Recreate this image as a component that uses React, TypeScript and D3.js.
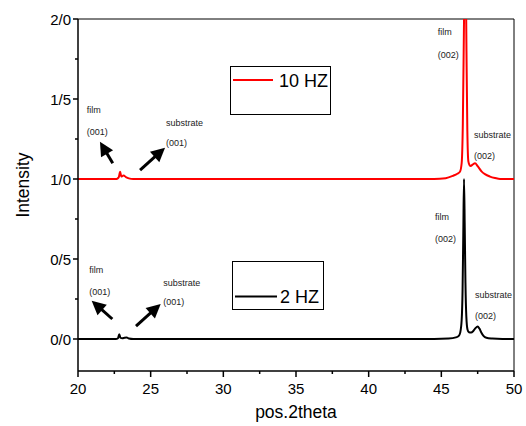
import React from "react";
import * as d3 from "d3";

// ---- data ----
const xTicks = [20, 25, 30, 35, 40, 45, 50];
const xMinorTicks = [22.5, 27.5, 32.5, 37.5, 42.5, 47.5];
const yTicks = [0, 0.5, 1.0, 1.5, 2.0];
const yMinorTicks = [0.25, 0.75, 1.25, 1.75];

// 2 HZ pattern (2theta, intensity)
const hz2X = [20, 22.6, 22.75, 22.84, 22.92, 23.05, 23.2, 23.35, 23.5, 23.8, 44.5, 45.5, 46.0, 46.2, 46.3, 46.4, 46.46, 46.51, 46.56, 46.61, 46.66, 46.72, 46.8, 46.9, 47.05, 47.2, 47.35, 47.5, 47.62, 47.75, 47.9, 48.1, 48.5, 49.2, 50];
const hz2Y = [0, 0, 0.005, 0.03, 0.008, 0.004, 0.008, 0.01, 0.003, 0, 0, 0.003, 0.01, 0.02, 0.04, 0.12, 0.3, 0.65, 1.0, 0.7, 0.35, 0.14, 0.06, 0.042, 0.04, 0.05, 0.068, 0.078, 0.065, 0.04, 0.02, 0.008, 0.003, 0, 0];

// 10 HZ pattern (offset by 1.0 in the plot)
const hz10Offset = 1.0;
const hz10X = [20, 22.65, 22.8, 22.9, 22.98, 23.08, 23.14, 23.3, 23.5, 23.8, 44.5, 45.3, 45.8, 46.1, 46.28, 46.4, 46.48, 46.55, 46.6, 46.64, 46.68, 46.73, 46.79, 46.86, 46.95, 47.02, 47.15, 47.32, 47.5, 47.78, 48.0, 48.35, 48.7, 49.04, 50];
const hz10Y = [0, 0, 0.01, 0.045, 0.015, 0.02, 0.022, 0.012, 0.004, 0, 0, 0.005, 0.02, 0.033, 0.045, 0.1, 0.35, 0.9, 1.3, 1.45, 1.3, 0.8, 0.3, 0.11, 0.085, 0.081, 0.09, 0.098, 0.08, 0.046, 0.03, 0.015, 0.006, 0, 0];

// annotations in data coordinates
const labelTexts = ["film", "(001)", "substrate", "(001)", "film", "(001)", "substrate", "(001)", "film", "(002)", "substrate", "(002)", "film", "(002)", "substrate", "(002)"];
const labelX = [20.6, 20.6, 26.05, 26.05, 20.78, 20.78, 25.87, 25.87, 44.75, 44.75, 47.25, 47.25, 44.56, 44.56, 47.32, 47.32];
const labelY = [1.4125, 1.278, 1.331, 1.209, 0.4125, 0.275, 0.331, 0.2125, 1.9, 1.759, 1.254, 1.125, 0.744, 0.609, 0.256, 0.128];

const arrowTailX = [22.39, 24.27, 22.36, 23.99];
const arrowTailY = [1.098, 1.056, 0.125, 0.081];
const arrowTipX = [21.51, 25.99, 20.94, 25.69];
const arrowTipY = [1.233, 1.196, 0.239, 0.219];

const W = 526, H = 426;
const M = { left: 78, right: 514, top: 19, bottom: 371 };
const FONT = "'Liberation Sans', Arial, sans-serif";

export default function App() {
  const x = d3.scaleLinear().domain([20, 50]).range([M.left, M.right]);
  const y = d3.scaleLinear().domain([-0.2, 2.0]).range([M.bottom, M.top]);
  const line = d3
    .line<[number, number]>()
    .x((d) => x(d[0]))
    .y((d) => y(d[1]))
    .curve(d3.curveMonotoneX);

  const black = hz2X.map((v, i) => [v, hz2Y[i]] as [number, number]);
  const red = hz10X.map((v, i) => [v, hz10Y[i] + hz10Offset] as [number, number]);

  const arrows = arrowTailX.map((_, i) => {
    const x1 = x(arrowTailX[i]), y1 = y(arrowTailY[i]);
    const x2 = x(arrowTipX[i]), y2 = y(arrowTipY[i]);
    const ang = Math.atan2(y2 - y1, x2 - x1);
    const headLen = 14, headHalf = 7;
    const bx = x2 - headLen * Math.cos(ang), by = y2 - headLen * Math.sin(ang);
    const px = -Math.sin(ang), py = Math.cos(ang);
    const pts = `${x2},${y2} ${bx + px * headHalf},${by + py * headHalf} ${bx - px * headHalf},${by - py * headHalf}`;
    return (
      <g key={i}>
        <line x1={x1} y1={y1} x2={bx + 2 * Math.cos(ang)} y2={by + 2 * Math.sin(ang)} stroke="#000" strokeWidth={3} />
        <polygon points={pts} fill="#000" />
      </g>
    );
  });

  const fmtY = (v: number) => d3.format(".1f")(v).replace(".", "/");

  return (
    <svg width={W} height={H} style={{ position: "absolute", left: 0, top: 0, background: "#fff" }} fontFamily={FONT}>
      <defs>
        <clipPath id="plotclip">
          <rect x={M.left} y={M.top} width={M.right - M.left} height={M.bottom - M.top} />
        </clipPath>
      </defs>
      <rect x={0} y={0} width={W} height={H} fill="#fff" />

      {/* frame top/right */}
      <line x1={M.left} y1={M.top} x2={M.right} y2={M.top} stroke="#000" strokeWidth={1} />
      <line x1={M.right} y1={M.top} x2={M.right} y2={M.bottom} stroke="#000" strokeWidth={1} />

      {/* curves */}
      <g clipPath="url(#plotclip)">
        <path d={line(black) || ""} fill="none" stroke="#000" strokeWidth={2} />
        <path d={line(red) || ""} fill="none" stroke="#ff0000" strokeWidth={2} />
      </g>

      {/* axes */}
      <line x1={M.left} y1={M.top} x2={M.left} y2={M.bottom} stroke="#000" strokeWidth={1.5} />
      <line x1={M.left} y1={M.bottom} x2={M.right} y2={M.bottom} stroke="#000" strokeWidth={1.5} />
      {xTicks.map((t) => (
        <g key={"xt" + t}>
          <line x1={x(t)} x2={x(t)} y1={M.bottom} y2={M.bottom + 6} stroke="#000" strokeWidth={1.5} />
          <text x={x(t)} y={M.bottom + 23} textAnchor="middle" fontSize={15} fill="#000">{t}</text>
        </g>
      ))}
      {xMinorTicks.map((t) => (
        <line key={"xm" + t} x1={x(t)} x2={x(t)} y1={M.bottom} y2={M.bottom + 3} stroke="#000" strokeWidth={1.5} />
      ))}
      {yTicks.map((t) => (
        <g key={"yt" + t}>
          <line x1={M.left - 5} x2={M.left} y1={y(t)} y2={y(t)} stroke="#000" strokeWidth={1.5} />
          <text x={M.left - 7} y={y(t) + 5.5} textAnchor="end" fontSize={15} fill="#000">{fmtY(t)}</text>
        </g>
      ))}
      {yMinorTicks.map((t) => (
        <line key={"ym" + t} x1={M.left - 3} x2={M.left} y1={y(t)} y2={y(t)} stroke="#000" strokeWidth={1.5} />
      ))}

      <text x={(M.left + M.right) / 2} y={418} textAnchor="middle" fontSize={17.5} fill="#000">pos.2theta</text>
      <text transform={`translate(29,${(M.top + M.bottom) / 2 - 10}) rotate(-90)`} textAnchor="middle" fontSize={17.5} fill="#000">Intensity</text>

      {/* legends */}
      <rect x={230.5} y={66.5} width={100} height={48} fill="#fff" stroke="#000" strokeWidth={1} />
      <line x1={233} x2={273} y1={80} y2={80} stroke="#ff0000" strokeWidth={2} />
      <text x={279} y={87} fontSize={18} fill="#000">10 HZ</text>

      <rect x={232.5} y={261.5} width={91} height={48} fill="#fff" stroke="#000" strokeWidth={1} />
      <line x1={235} x2={277} y1={296.5} y2={296.5} stroke="#000" strokeWidth={2} />
      <text x={280} y={303} fontSize={18} fill="#000">2 HZ</text>

      {/* annotations */}
      {labelTexts.map((s, i) => (
        <text key={"lb" + i} x={x(labelX[i])} y={y(labelY[i])} fontSize={9} fill="#222">{s}</text>
      ))}
      {arrows}
    </svg>
  );
}
